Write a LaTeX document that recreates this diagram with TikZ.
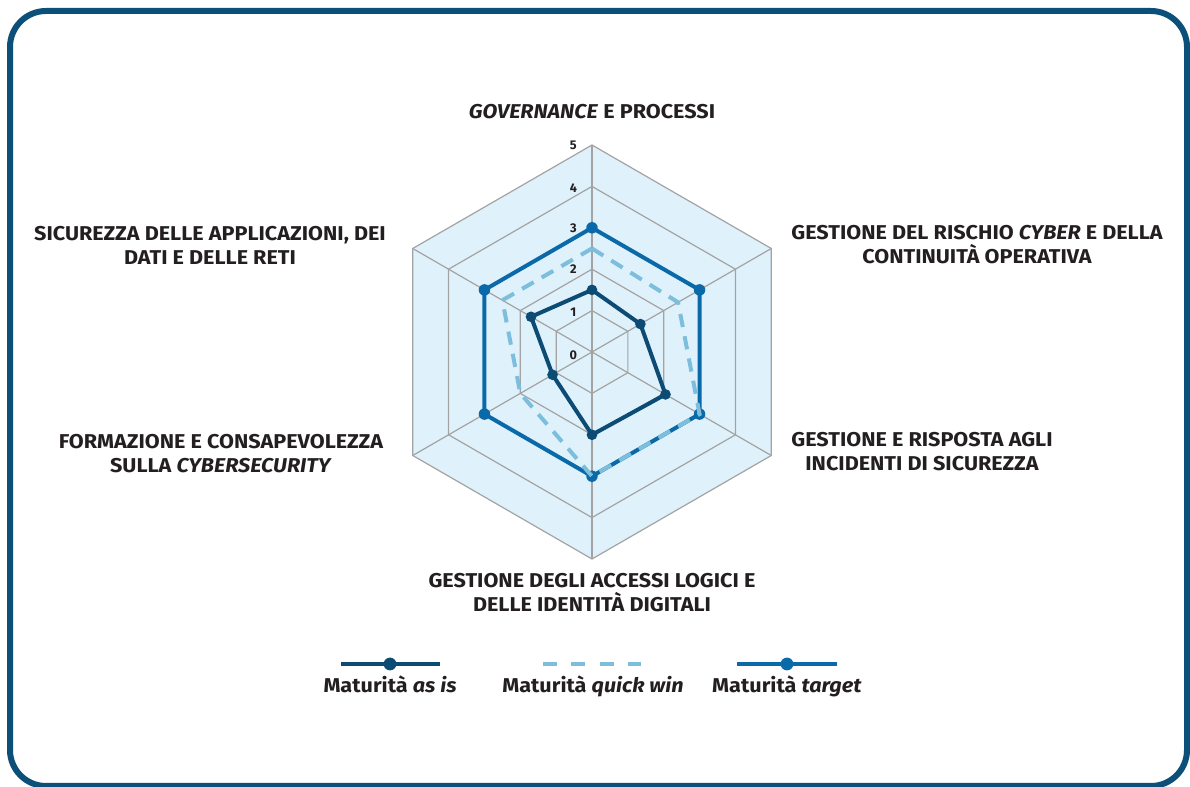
\documentclass[tikz,border=0pt]{standalone}
\usepackage{fontspec}
\setmainfont{Fira Sans}
\definecolor{frameblue}{HTML}{0C4F79}
\definecolor{hexfill}{HTML}{DFF1FA}
\definecolor{gridgray}{HTML}{A3A3A3}
\definecolor{asiscol}{HTML}{0B4B74}
\definecolor{quickcol}{HTML}{7DBEDD}
\definecolor{targetcol}{HTML}{0A69A8}
\definecolor{labeltext}{HTML}{231F20}

\begin{document}
\begin{tikzpicture}[x=0.75pt,y=0.75pt,yscale=-1,xscale=1,
	axislabel/.style={align=center,inner sep=0pt,text=labeltext,font=\fontsize{15}{18}\selectfont\bfseries\addfontfeatures{FakeStretch=1.08}},
	ticklabel/.style={inner sep=0pt,text=labeltext,font=\fontsize{9.5}{11}\selectfont\bfseries},
	legendtext/.style={anchor=base,inner sep=0pt,text=labeltext,font=\fontsize{15}{17}\selectfont\bfseries\addfontfeatures{FakeStretch=1.08}},
	gridline/.style={draw=gridgray,line width=0.9pt},
	asisline/.style={draw=asiscol,line width=3pt,line join=round},
	quickline/.style={draw=quickcol,line width=3pt,dash pattern=on 10pt off 7pt},
	targetline/.style={draw=targetcol,line width=3pt,line join=round}]
	\useasboundingbox (0,0) rectangle (1190,787);
	% frame
	\draw [line width=4.5pt,color=frameblue,rounded corners=27pt] (10,11) rectangle (1187,786);

	% radar, one unit = one level
	\begin{scope}[shift={(592,352)},x=31.05pt,y=31.05pt]
	\fill [hexfill] (-90:5) -- (-30:5) -- (30:5) -- (90:5) -- (150:5) -- (210:5) -- cycle;
	\draw [gridline] (-90:1) -- (-30:1) -- (30:1) -- (90:1) -- (150:1) -- (210:1) -- cycle;
	\draw [gridline] (-90:2) -- (-30:2) -- (30:2) -- (90:2) -- (150:2) -- (210:2) -- cycle;
	\draw [gridline] (-90:3) -- (-30:3) -- (30:3) -- (90:3) -- (150:3) -- (210:3) -- cycle;
	\draw [gridline] (-90:4) -- (-30:4) -- (30:4) -- (90:4) -- (150:4) -- (210:4) -- cycle;
	\draw [gridline] (-90:5) -- (-30:5) -- (30:5) -- (90:5) -- (150:5) -- (210:5) -- cycle;
	\draw [gridline] (0,0) -- (-90:5);
	\draw [gridline] (0,0) -- (-30:5);
	\draw [gridline] (0,0) -- (30:5);
	\draw [gridline] (0,0) -- (90:5);
	\draw [gridline] (0,0) -- (150:5);
	\draw [gridline] (0,0) -- (210:5);

	\node [ticklabel] (tick0) at (-0.45,0.08) {0};
	\node [ticklabel] (tick1) at (-0.45,-0.97) {1};
	\node [ticklabel] (tick2) at (-0.45,-2.0) {2};
	\node [ticklabel] (tick3) at (-0.45,-3.0) {3};
	\node [ticklabel] (tick4) at (-0.45,-3.97) {4};
	\node [ticklabel] (tick5) at (-0.45,-5.0) {5};

	% target
	\draw [targetline] (-90:3) -- (-30:3) -- (30:3) -- (90:3) -- (150:3) -- (210:3) -- cycle;
	\fill [targetcol] (-90:3) circle (4.3pt) (-30:3) circle (4.3pt) (30:3) circle (4.3pt) (90:3) circle (4.3pt) (150:3) circle (4.3pt) (210:3) circle (4.3pt);
	% as is
	\draw [asisline] (-90:1.5) -- (-30:1.35) -- (30:2.05) -- (90:2) -- (150:1.1) -- (210:1.7) -- cycle;
	\fill [asiscol] (-90:1.5) circle (4pt) (-30:1.35) circle (4pt) (30:2.05) circle (4pt) (90:2) circle (4pt) (150:1.1) circle (4pt) (210:1.7) circle (4pt);
	% quick win
	\draw [quickline] (-90:2.5) -- (-30:2.4) -- (30:3) -- (90:3) -- (150:2) -- (210:2.5) -- cycle;
	\end{scope}

	\node [axislabel] (governance) at (592,112) {\textit{GOVERNANCE} E PROCESSI};
	\node [axislabel] (rischio) at (977,245) {GESTIONE DEL RISCHIO \textit{CYBER} E DELLA\\CONTINUITÀ OPERATIVA};
	\node [axislabel] (incidenti) at (922,452) {GESTIONE E RISPOSTA AGLI\\INCIDENTI DI SICUREZZA};
	\node [axislabel] (accessi) at (592,593) {GESTIONE DEGLI ACCESSI LOGICI E\\DELLE IDENTITÀ DIGITALI};
	\node [axislabel] (formazione) at (221,454) {FORMAZIONE E CONSAPEVOLEZZA\\SULLA \textit{CYBERSECURITY}};
	\node [axislabel] (sicurezza) at (210,245) {SICUREZZA DELLE APPLICAZIONI, DEI\\DATI E DELLE RETI};

	% legend
	\coordinate (asisA) at (341,664);
	\coordinate (asisB) at (440,664);
	\coordinate (quickA) at (543,664);
	\coordinate (quickB) at (641,664);
	\coordinate (targetA) at (737,664);
	\coordinate (targetB) at (837,664);
	\draw [asisline] (asisA) -- (asisB);
	\fill [asiscol] (390,664) circle (4.8pt);
	\draw [draw=quickcol,line width=3.4pt,dash pattern=on 10.5pt off 10.8pt] (quickA) -- (quickB);
	\draw [targetline] (targetA) -- (targetB);
	\fill [targetcol] (787,664) circle (4.8pt);
	\node [legendtext] (asistext) at (390,693) {Maturità \textit{as is}};
	\node [legendtext] (quicktext) at (593,693) {Maturità \textit{quick win}};
	\node [legendtext] (targettext) at (787,693) {Maturità \textit{target}};
\end{tikzpicture}
\end{document}
